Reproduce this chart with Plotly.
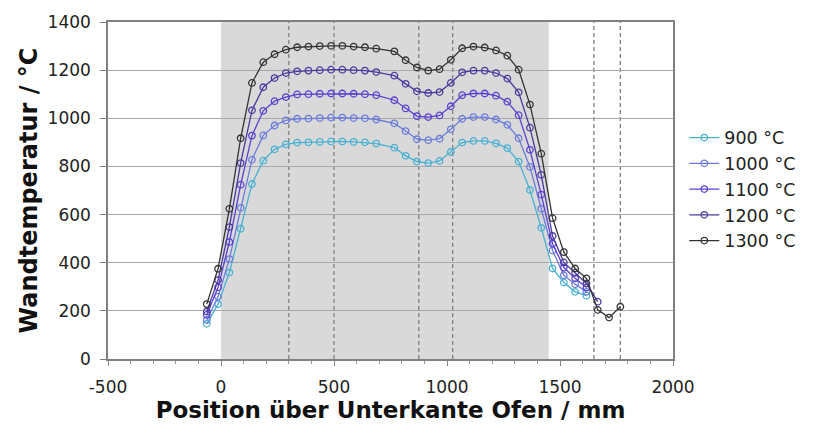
import plotly.graph_objects as go

# Positions (mm) of the measurement points
pos_main = [-63, -13, 37, 87, 137, 187, 237, 287, 337, 387, 437, 487, 537, 587, 637, 687,
            767, 817, 867, 917, 967, 1017, 1067, 1117, 1167, 1217, 1267, 1317, 1367, 1417,
            1467, 1517, 1567, 1617]
pos_tail_1200 = [1667]
pos_tail_1300 = [1667, 1717, 1767]

t900 = [146, 228, 359, 541, 727, 824, 871, 892, 899, 900, 902, 904, 904, 902, 900, 895,
        878, 844, 820, 814, 823, 860, 899, 906, 906, 896, 876, 820, 702, 545, 376, 318, 279, 263]
t1000 = [162, 259, 415, 628, 828, 929, 970, 991, 998, 999, 1001, 1003, 1003, 1001, 1000, 995,
         979, 947, 913, 909, 915, 954, 998, 1005, 1005, 995, 973, 917, 798, 624, 451, 348, 311, 279]
t1100 = [183, 298, 486, 724, 928, 1031, 1071, 1088, 1099, 1100, 1102, 1103, 1103, 1102, 1100, 1096,
         1075, 1041, 1009, 1005, 1012, 1050, 1096, 1103, 1103, 1094, 1069, 1013, 869, 683, 479, 380, 335, 297]
t1200 = [197, 328, 548, 814, 1033, 1129, 1167, 1188, 1195, 1198, 1200, 1202, 1202, 1200, 1198, 1192,
         1177, 1143, 1112, 1105, 1109, 1147, 1191, 1198, 1198, 1188, 1165, 1108, 961, 765, 511, 401, 358, 314]
t1200_tail = [238]
t1300 = [228, 375, 624, 917, 1147, 1233, 1266, 1285, 1295, 1298, 1300, 1301, 1301, 1298, 1295, 1289,
         1278, 1241, 1211, 1198, 1204, 1243, 1291, 1298, 1294, 1282, 1260, 1202, 1057, 853, 585, 444, 376, 335]
t1300_tail = [204, 172, 217]

series_names = ["900 °C", "1000 °C", "1100 °C", "1200 °C", "1300 °C"]
colors = ["#48B0D2", "#6B7BDB", "#5B3FCF", "#4A3A9E", "#333333"]

x_tickvals = [-500, 0, 500, 1000, 1500, 2000]
x_ticktext = ["-500", "0", "500", "1000", "1500", "2000"]

# Furnace zone and marker lines (mm)
zone = [0, 1450]
dashed_x = [300, 500, 875, 1025, 1650, 1767]

series = [
    (pos_main, t900),
    (pos_main, t1000),
    (pos_main, t1100),
    (pos_main + pos_tail_1200, t1200 + t1200_tail),
    (pos_main + pos_tail_1300, t1300 + t1300_tail),
]

fig = go.Figure()
for (xs, ys), name, col in zip(series, series_names, colors):
    fig.add_trace(go.Scatter(
        x=xs, y=ys, name=name, mode="lines+markers",
        line=dict(color=col, width=1.3),
        marker=dict(symbol="circle-open", size=6.5, color=col, line=dict(width=1.3)),
    ))

fig.add_shape(type="rect", xref="x", yref="paper", x0=zone[0], x1=zone[1], y0=0, y1=1,
              fillcolor="#D9D9D9", line=dict(width=0), layer="below")
for dx in dashed_x:
    fig.add_shape(type="line", xref="x", yref="paper", x0=dx, x1=dx, y0=0, y1=1,
                  line=dict(color="#808080", width=1.3, dash="4px,3px"), layer="below")

font_family = "DejaVu Sans, Verdana, sans-serif"
fig.update_layout(
    width=827, height=435,
    margin=dict(l=108, r=154, t=20, b=76),
    paper_bgcolor="white", plot_bgcolor="rgba(0,0,0,0)",
    font=dict(family=font_family, size=17, color="#222"),
    showlegend=True,
    legend=dict(x=1.02, y=0.71, xanchor="left", yanchor="top",
                font=dict(size=17.5, color="#222"), bgcolor="rgba(0,0,0,0)",
                itemwidth=30, tracegroupgap=0),
    xaxis=dict(range=[-500, 2000], tickmode="array", tickvals=x_tickvals, ticktext=x_ticktext,
               showgrid=False, zeroline=False,
               showline=True, linecolor="#808080", linewidth=1.5, mirror=True,
               ticks="outside", ticklen=5, tickcolor="#808080", ticklabelstandoff=7,
               minor=dict(dtick=100, ticks="outside", ticklen=3, tickcolor="#999"),
               title=dict(text="<b>Position über Unterkante Ofen / mm</b>",
                          font=dict(size=23, color="#111"), standoff=4)),
    yaxis=dict(range=[0, 1400], dtick=200, showgrid=True, gridcolor="#A8A8A8", gridwidth=1,
               zeroline=False, showline=True, linecolor="#808080", linewidth=1.5, mirror=True,
               ticks="outside", ticklen=6, tickcolor="#808080", ticklabelstandoff=6,
               title=dict(text="<b>Wandtemperatur / °C</b>",
                          font=dict(size=24, color="#111"), standoff=3)),
)

fig.write_html("out.html")
